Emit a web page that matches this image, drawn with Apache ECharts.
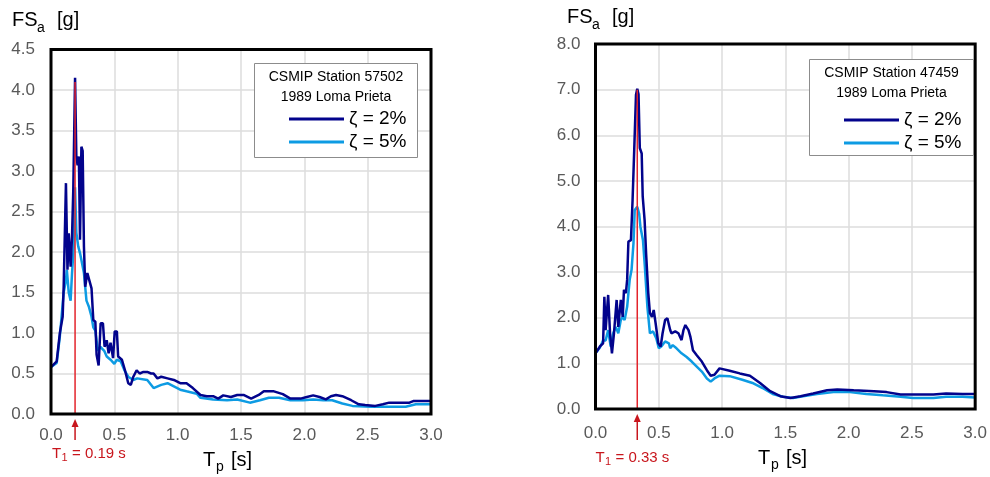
<!DOCTYPE html>
<html>
<head>
<meta charset="utf-8">
<script src="https://cdn.jsdelivr.net/npm/echarts@6/dist/echarts.min.js"></script>
<style>
  html, body { margin: 0; padding: 0; background: #fff; }
  #chart { width: 990px; height: 477px; }
</style>
</head>
<body>
<div id="chart"></div>
<script>
// Station 57502 – floor spectral acceleration, 2% damping
const s57502PeriodD2 = [0, 0.045, 0.07, 0.092, 0.10, 0.118, 0.13, 0.14, 0.155, 0.166, 0.176, 0.19, 0.20, 0.21, 0.22, 0.229, 0.24, 0.25, 0.26, 0.27, 0.287, 0.30, 0.32, 0.334, 0.35, 0.36, 0.376, 0.392, 0.41, 0.423, 0.44, 0.455, 0.47, 0.49, 0.503, 0.52, 0.53, 0.56, 0.584, 0.61, 0.63, 0.65, 0.676, 0.70, 0.73, 0.76, 0.79, 0.81, 0.84, 0.87, 0.92, 0.97, 1.02, 1.07, 1.12, 1.18, 1.23, 1.28, 1.32, 1.36, 1.42, 1.47, 1.52, 1.58, 1.64, 1.68, 1.76, 1.83, 1.89, 1.97, 2.02, 2.07, 2.12, 2.17, 2.21, 2.25, 2.30, 2.37, 2.43, 2.48, 2.56, 2.62, 2.67, 2.83, 2.86, 3.0];
const s57502AccelD2  = [0.58, 0.65, 1.0, 1.2, 1.57, 2.85, 1.78, 2.23, 1.82, 2.19, 2.77, 4.15, 3.18, 3.07, 3.18, 2.15, 3.30, 3.25, 2.07, 1.57, 1.74, 1.72, 1.55, 1.16, 1.14, 0.73, 0.6, 1.12, 1.12, 0.83, 0.91, 0.75, 0.88, 0.69, 1.02, 1.02, 0.71, 0.67, 0.54, 0.38, 0.36, 0.46, 0.54, 0.5, 0.52, 0.52, 0.5, 0.5, 0.44, 0.46, 0.44, 0.42, 0.38, 0.38, 0.32, 0.235, 0.22, 0.22, 0.19, 0.23, 0.21, 0.235, 0.235, 0.19, 0.235, 0.28, 0.28, 0.245, 0.19, 0.19, 0.21, 0.23, 0.21, 0.18, 0.22, 0.235, 0.22, 0.17, 0.12, 0.11, 0.10, 0.12, 0.14, 0.14, 0.16, 0.16];

// Station 57502 – 5% damping
const s57502PeriodD5 = [0, 0.045, 0.07, 0.10, 0.118, 0.125, 0.14, 0.155, 0.166, 0.18, 0.19, 0.20, 0.215, 0.23, 0.24, 0.26, 0.28, 0.30, 0.32, 0.334, 0.35, 0.37, 0.39, 0.42, 0.44, 0.47, 0.50, 0.52, 0.55, 0.58, 0.61, 0.65, 0.68, 0.76, 0.81, 0.87, 0.92, 0.97, 1.02, 1.07, 1.15, 1.18, 1.28, 1.39, 1.47, 1.57, 1.65, 1.72, 1.80, 1.89, 1.99, 2.07, 2.15, 2.22, 2.30, 2.38, 2.53, 2.64, 2.80, 2.88, 3.0];
const s57502AccelD5  = [0.58, 0.63, 0.96, 1.5, 1.65, 1.78, 1.5, 1.4, 1.74, 2.07, 2.8, 2.24, 2.07, 1.98, 1.9, 1.74, 1.4, 1.32, 1.2, 1.07, 1.03, 0.78, 0.83, 0.78, 0.71, 0.67, 0.62, 0.67, 0.65, 0.54, 0.46, 0.42, 0.44, 0.42, 0.32, 0.36, 0.38, 0.34, 0.30, 0.28, 0.25, 0.2, 0.18, 0.17, 0.18, 0.14, 0.17, 0.2, 0.2, 0.17, 0.17, 0.18, 0.17, 0.17, 0.13, 0.10, 0.09, 0.09, 0.09, 0.12, 0.12];

// Station 47459 – 2% damping
const s47459PeriodD2 = [0, 0.035, 0.06, 0.07, 0.08, 0.10, 0.115, 0.13, 0.146, 0.167, 0.18, 0.20, 0.215, 0.225, 0.24, 0.25, 0.26, 0.28, 0.293, 0.306, 0.32, 0.33, 0.34, 0.35, 0.365, 0.373, 0.388, 0.40, 0.417, 0.43, 0.446, 0.46, 0.475, 0.496, 0.515, 0.53, 0.55, 0.568, 0.59, 0.60, 0.63, 0.655, 0.68, 0.695, 0.71, 0.735, 0.75, 0.77, 0.80, 0.84, 0.88, 0.91, 0.94, 0.98, 1.06, 1.14, 1.22, 1.30, 1.38, 1.46, 1.54, 1.62, 1.72, 1.83, 1.91, 2.04, 2.20, 2.30, 2.41, 2.51, 2.67, 2.77, 2.90, 3.0];
const s47459AccelD2  = [1.22, 1.37, 1.44, 2.46, 1.73, 2.5, 1.66, 1.22, 1.66, 2.39, 1.8, 2.39, 2.02, 2.61, 2.54, 2.83, 3.67, 3.7, 4.58, 5.68, 6.89, 7.02, 6.9, 5.72, 5.6, 4.66, 4.14, 3.4, 2.54, 2.1, 2.02, 2.17, 1.88, 1.44, 1.37, 1.66, 1.95, 1.99, 1.73, 1.66, 1.7, 1.66, 1.51, 1.73, 1.84, 1.73, 1.58, 1.29, 1.18, 1.04, 0.85, 0.73, 0.75, 0.89, 0.84, 0.78, 0.73, 0.57, 0.39, 0.28, 0.24, 0.28, 0.34, 0.41, 0.43, 0.41, 0.39, 0.37, 0.32, 0.32, 0.32, 0.34, 0.33, 0.33];

// Station 47459 – 5% damping
const s47459PeriodD5 = [0, 0.035, 0.06, 0.08, 0.10, 0.12, 0.14, 0.16, 0.18, 0.20, 0.215, 0.23, 0.25, 0.27, 0.285, 0.30, 0.31, 0.33, 0.345, 0.355, 0.375, 0.39, 0.41, 0.43, 0.455, 0.48, 0.50, 0.52, 0.55, 0.58, 0.59, 0.61, 0.64, 0.68, 0.72, 0.76, 0.80, 0.84, 0.88, 0.91, 0.94, 0.98, 1.06, 1.16, 1.24, 1.32, 1.40, 1.48, 1.56, 1.64, 1.75, 1.88, 2.01, 2.14, 2.27, 2.41, 2.51, 2.67, 2.77, 2.90, 3.0];
const s47459AccelD5  = [1.22, 1.35, 1.5, 1.5, 1.73, 1.37, 1.66, 1.8, 1.66, 1.95, 2.02, 1.95, 2.24, 2.83, 3.05, 3.63, 4.36, 4.43, 4.28, 3.99, 3.7, 3.12, 2.24, 1.66, 1.7, 1.55, 1.33, 1.37, 1.48, 1.44, 1.33, 1.4, 1.33, 1.22, 1.14, 1.04, 0.93, 0.82, 0.67, 0.6, 0.67, 0.73, 0.72, 0.64, 0.57, 0.46, 0.33, 0.27, 0.24, 0.28, 0.33, 0.37, 0.37, 0.33, 0.3, 0.27, 0.24, 0.24, 0.27, 0.27, 0.25];

// Fundamental periods and the height of the marker line
const s57502T1 = 0.19, s57502T1Top = 4.1;
const s47459T1 = 0.33, s47459T1Top = 7.0;

// Axis ranges
const periodTicks = { min: 0, max: 3.0, step: 0.5 };
const s57502AccelTicks = { min: 0, max: 4.5, step: 0.5 };
const s47459AccelTicks = { min: 0, max: 8.0, step: 1.0 };

const seriesNames = ['ζ = 2%', 'ζ = 5%'];
const stationTitles = ['CSMIP Station 57502', 'CSMIP Station 47459'];
const eventTitle = '1989 Loma Prieta';

const FONT = '"Liberation Sans", Arial, Helvetica, sans-serif';
const NAVY = '#02038c';
const SKY = '#0d9be3';
const RED = '#e3242b';
const RED_TEXT = '#c8161d';

const zip = (t, v) => t.map((x, i) => [x, v[i]]);

function xAxisFor(gi, margin) {
  return {
    gridIndex: gi, type: 'value',
    min: periodTicks.min, max: periodTicks.max, interval: periodTicks.step,
    axisLine: { show: false }, axisTick: { show: false },
    splitLine: { show: true, lineStyle: { color: '#dcdcdc', width: 1.5 } },
    axisLabel: { formatter: v => v.toFixed(1), color: '#595959', fontSize: 17, fontFamily: FONT, margin: margin }
  };
}
function yAxisFor(gi, ticks, margin) {
  return {
    gridIndex: gi, type: 'value',
    min: ticks.min, max: ticks.max, interval: ticks.step,
    axisLine: { show: false }, axisTick: { show: false },
    splitLine: { show: true, lineStyle: { color: '#dcdcdc', width: 1.5 } },
    axisLabel: { formatter: v => v.toFixed(1), color: '#595959', fontSize: 17, fontFamily: FONT, margin: margin }
  };
}
function curve(name, gi, data, color, z) {
  return {
    name: name, type: 'line', xAxisIndex: gi, yAxisIndex: gi,
    data: data, showSymbol: false, symbol: 'none', clip: true, z: z,
    lineStyle: { color: color, width: 2.5 }, itemStyle: { color: color },
    emphasis: { disabled: true }
  };
}
function periodMarker(gi, t1, top) {
  return {
    name: 'T1', type: 'line', xAxisIndex: gi, yAxisIndex: gi,
    data: [[t1, 0], [t1, top]], showSymbol: false, symbol: 'none', z: 4,
    lineStyle: { color: RED, width: 1.5 }, emphasis: { disabled: true }
  };
}
function legendFor(left, top) {
  return {
    data: seriesNames, left: left, top: top, orient: 'vertical', padding: 0,
    itemWidth: 55, itemHeight: 3, icon: 'rect', itemGap: 4, selectedMode: false, z: 12,
    textStyle: { fontSize: 19, color: '#000', fontFamily: FONT }
  };
}

const chart = echarts.init(document.getElementById('chart'), null, { renderer: 'canvas' });

chart.setOption({
  animation: false,
  backgroundColor: '#fff',
  textStyle: { fontFamily: FONT },
  grid: [
    { left: 51, top: 49.5, width: 380, height: 364.5, show: true, z: 5, backgroundColor: 'transparent', borderColor: '#000', borderWidth: 3 },
    { left: 595.5, top: 44, width: 380, height: 365, show: true, z: 5, backgroundColor: 'transparent', borderColor: '#000', borderWidth: 3 }
  ],
  xAxis: [xAxisFor(0, 13), xAxisFor(1, 16)],
  yAxis: [yAxisFor(0, s57502AccelTicks, 16), yAxisFor(1, s47459AccelTicks, 15)],
  legend: [legendFor(289, 109.5), legendFor(844, 110.5)],
  series: [
    curve(seriesNames[1], 0, zip(s57502PeriodD5, s57502AccelD5), SKY, 2),
    curve(seriesNames[0], 0, zip(s57502PeriodD2, s57502AccelD2), NAVY, 3),
    periodMarker(0, s57502T1, s57502T1Top),
    curve(seriesNames[1], 1, zip(s47459PeriodD5, s47459AccelD5), SKY, 2),
    curve(seriesNames[0], 1, zip(s47459PeriodD2, s47459AccelD2), NAVY, 3),
    periodMarker(1, s47459T1, s47459T1Top)
  ]
});

// Annotations placed from the axes' own pixel mapping
function text(x, y, str, size, color, align) {
  return { type: 'text', x: x, y: y, z: 20, silent: true,
    style: { text: str, fill: color, font: size + 'px ' + FONT, align: align || 'left', verticalAlign: 'middle' } };
}
function arrow(gi, t1) {
  const base = chart.convertToPixel({ gridIndex: gi }, [t1, 0]);
  const x = base[0], y0 = base[1];
  return [
    { type: 'line', z: 20, silent: true, shape: { x1: x, y1: 440, x2: x, y2: y0 + 10 }, style: { stroke: RED_TEXT, lineWidth: 1.5 } },
    { type: 'polygon', z: 20, silent: true, shape: { points: [[x, y0 + 5], [x - 3.5, y0 + 13], [x + 3.5, y0 + 13]] }, style: { fill: RED_TEXT } }
  ];
}
function periodLabel(x, y, value) {
  return [
    text(x, y, 'T', 15, RED_TEXT),
    text(x + 9.5, y + 4, '1', 11, RED_TEXT),
    text(x + 20, y, '= ' + value.toFixed(2) + ' s', 15, RED_TEXT)
  ];
}
function accelTitle(x, y) {
  return [text(x, y, 'FS', 20, '#000'), text(x + 25, y + 8, 'a', 14, '#000'), text(x + 45, y, '[g]', 20, '#000')];
}
function periodTitle(x, y) {
  return [text(x, y, 'T', 20, '#000'), text(x + 13, y + 7, 'p', 14, '#000'), text(x + 28, y, '[s]', 20, '#000')];
}
function legendBox(x, y, w, h, title) {
  return [
    { type: 'rect', z: 10, silent: true, shape: { x: x, y: y, width: w, height: h }, style: { fill: '#fff', stroke: '#8c8c8c', lineWidth: 1 } },
    text(x + w / 2, y + 13.5, title, 14, '#000', 'center'),
    text(x + w / 2, y + 34, eventTitle, 14, '#000', 'center')
  ];
}

const lb0 = chart.convertToPixel({ gridIndex: 0 }, [0, 0]);
const lb1 = chart.convertToPixel({ gridIndex: 1 }, [0, 0]);

chart.setOption({
  graphic: [].concat(
    legendBox(254.5, 63.5, 163, 94, stationTitles[0]),
    legendBox(809.5, 59.5, 164, 96, stationTitles[1]),
    accelTitle(12, 20),
    accelTitle(567, 17),
    periodTitle(203, 460),
    periodTitle(758, 458),
    arrow(0, s57502T1),
    arrow(1, s47459T1),
    periodLabel(lb0[0] + 1, 454, s57502T1),
    periodLabel(lb1[0], 458, s47459T1)
  )
});
</script>
</body>
</html>
